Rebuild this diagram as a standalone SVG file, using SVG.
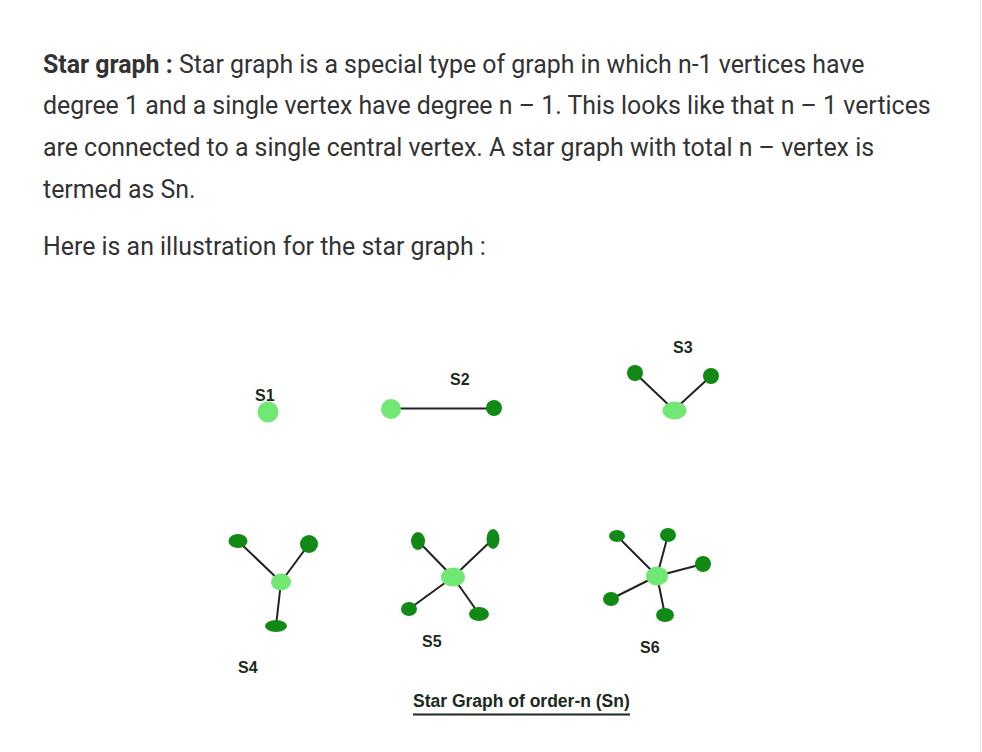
<svg xmlns="http://www.w3.org/2000/svg" width="982" height="752" viewBox="0 0 982 752">
<style>
.p{font-family:Roboto,"Liberation Sans",sans-serif;font-size:24.9px;fill:#333}
.b{font-weight:bold}
.lab{font-family:"Liberation Sans",Arial,sans-serif;font-size:16px;font-weight:bold;fill:#1c2b1c}
.cap{font-size:17.5px}
.lt{fill:#70e873}
.dk{fill:#108a14}
.e{stroke:#222;stroke-width:2;fill:none}
</style>
<rect x="0" y="0" width="982" height="752" fill="#ffffff"/>
<line x1="980.5" y1="0" x2="980.5" y2="752" stroke="#e4e4e4" stroke-width="1"/>
<g id="text">
<text class="p" x="43" y="73"><tspan class="b">Star graph :</tspan> Star graph is a special type of graph in which n-1 vertices have</text>
<text class="p" x="43" y="114">degree 1 and a single vertex have degree n – 1. This looks like that n – 1 vertices</text>
<text class="p" x="43" y="156">are connected to a single central vertex. A star graph with total n – vertex is</text>
<text class="p" x="43" y="198">termed as Sn.</text>
<text class="p" x="43" y="255">Here is an illustration for the star graph :</text>
</g>
<g id="connectors">
<line class="e" x1="391" y1="408.5" x2="494" y2="408.5" stroke="#333" stroke-width="2.5"/>
<line class="e" x1="635" y1="373" x2="674" y2="410"/>
<line class="e" x1="711" y1="376" x2="674" y2="410"/>
<line class="e" x1="238" y1="541" x2="281" y2="582"/>
<line class="e" x1="309" y1="544" x2="281" y2="582"/>
<line class="e" x1="281" y1="582" x2="276" y2="626"/>
<line class="e" x1="418" y1="541" x2="453" y2="577"/>
<line class="e" x1="493" y1="539" x2="453" y2="577"/>
<line class="e" x1="409" y1="609" x2="453" y2="577"/>
<line class="e" x1="479" y1="614" x2="453" y2="577"/>
<line class="e" x1="617" y1="536" x2="657" y2="576"/>
<line class="e" x1="668" y1="535" x2="657" y2="576"/>
<line class="e" x1="703" y1="564" x2="657" y2="576"/>
<line class="e" x1="611" y1="599" x2="657" y2="576"/>
<line class="e" x1="665" y1="615" x2="657" y2="576"/>
</g>
<g id="S1">
<circle class="lt" cx="268" cy="412" r="10.5"/>
<text class="lab" x="255" y="401">S1</text>
</g>
<g id="S2">
<circle class="lt" cx="391" cy="409" r="10"/>
<circle class="dk" cx="494" cy="408" r="8"/>
<text class="lab" x="450" y="385">S2</text>
</g>
<g id="S3">
<circle class="dk" cx="635" cy="373" r="8"/>
<circle class="dk" cx="711" cy="376" r="8"/>
<ellipse class="lt" cx="674.5" cy="410.5" rx="12" ry="9"/>
<text class="lab" x="673" y="353">S3</text>
</g>
<g id="S4">
<ellipse class="dk" cx="238" cy="541" rx="9.5" ry="7"/>
<ellipse class="dk" cx="309" cy="544" rx="9" ry="9"/>
<ellipse class="lt" cx="281" cy="582" rx="10" ry="8.5"/>
<ellipse class="dk" cx="276" cy="626" rx="11" ry="6"/>
<text class="lab" x="238" y="673">S4</text>
</g>
<g id="S5">
<ellipse class="dk" cx="418" cy="541" rx="7" ry="9"/>
<ellipse class="dk" cx="493" cy="539" rx="6.5" ry="10"/>
<ellipse class="lt" cx="453" cy="577" rx="12" ry="9.5"/>
<ellipse class="dk" cx="409" cy="609" rx="8" ry="7"/>
<ellipse class="dk" cx="479" cy="614" rx="10" ry="7"/>
<text class="lab" x="422" y="647">S5</text>
</g>
<g id="S6">
<ellipse class="dk" cx="617" cy="536" rx="8" ry="6"/>
<ellipse class="dk" cx="668" cy="535" rx="8" ry="7"/>
<ellipse class="dk" cx="703" cy="564" rx="8" ry="8"/>
<ellipse class="lt" cx="657" cy="576" rx="11" ry="9.5"/>
<ellipse class="dk" cx="611" cy="599" rx="8" ry="7"/>
<ellipse class="dk" cx="665" cy="615" rx="9" ry="7"/>
<text class="lab" x="640" y="653">S6</text>
</g>
<g id="caption">
<text class="lab cap" x="413" y="707">Star Graph of order-n (Sn)</text>
<line x1="413" y1="714.5" x2="630" y2="714.5" stroke="#1c2b1c" stroke-width="2"/>
</g>
</svg>
